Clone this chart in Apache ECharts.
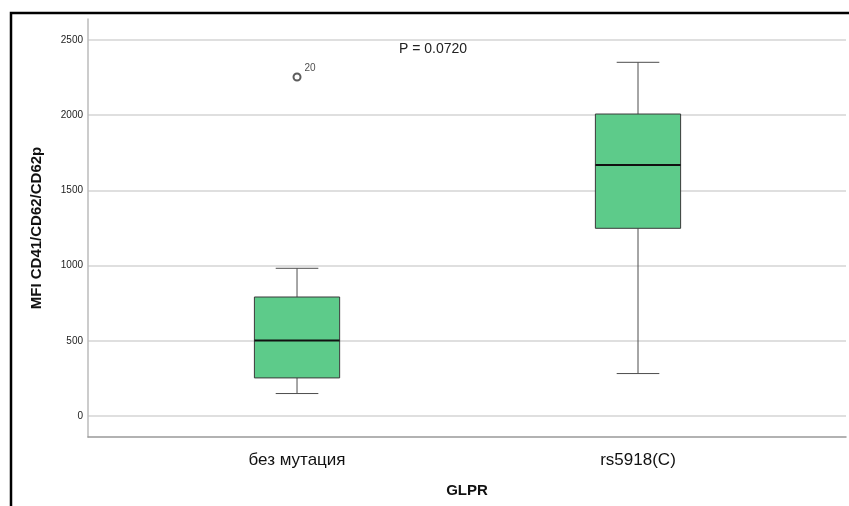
<!DOCTYPE html>
<html>
<head>
<meta charset="utf-8">
<script src="https://cdn.jsdelivr.net/npm/echarts@6/dist/echarts.min.js"></script>
<style>
  html, body { margin: 0; padding: 0; background: #fff; }
  #chart { width: 849px; height: 506px; }
</style>
</head>
<body>
<div id="chart"></div>
<script>
// groups and box statistics
var categories = ['без мутация', 'rs5918(C)'];
var minVals = [149, 282];
var q1Vals = [253, 1248];
var medVals = [501, 1669];
var q3Vals = [791, 2008];
var maxVals = [982, 2352];
// outlier: [group index, value, case label]
var outliers = [[0, 2254, '20']];
var yTicks = [0, 500, 1000, 1500, 2000, 2500];
var pText = 'P = 0.0720';

var chart = echarts.init(document.getElementById('chart'));

var boxData = categories.map(function (c, i) {
    return [i, minVals[i], q1Vals[i], medVals[i], q3Vals[i], maxVals[i]];
});

function renderBox(params, api) {
    var x = api.value(0);
    var pMin = api.coord([x, api.value(1)]);
    var pQ1 = api.coord([x, api.value(2)]);
    var pMed = api.coord([x, api.value(3)]);
    var pQ3 = api.coord([x, api.value(4)]);
    var pMax = api.coord([x, api.value(5)]);
    var unit = api.size([1, 0])[0];
    var half = unit * 0.125;      // box is a quarter of the group spacing
    var cap = half / 2;
    var cx = pMed[0];
    var wStyle = { stroke: '#4d4d4d', lineWidth: 1 };
    return {
        type: 'group',
        children: [
            { type: 'line', shape: { x1: cx, y1: pMax[1], x2: cx, y2: pQ3[1] }, style: wStyle },
            { type: 'line', shape: { x1: cx, y1: pQ1[1], x2: cx, y2: pMin[1] }, style: wStyle },
            { type: 'line', shape: { x1: cx - cap, y1: pMax[1], x2: cx + cap, y2: pMax[1] }, style: wStyle },
            { type: 'line', shape: { x1: cx - cap, y1: pMin[1], x2: cx + cap, y2: pMin[1] }, style: wStyle },
            {
                type: 'rect',
                shape: { x: cx - half, y: pQ3[1], width: half * 2, height: pQ1[1] - pQ3[1] },
                style: { fill: '#5dcb8a', stroke: '#3a3a3a', lineWidth: 1 }
            },
            {
                type: 'line',
                shape: { x1: cx - half, y1: pMed[1], x2: cx + half, y2: pMed[1] },
                style: { stroke: '#111', lineWidth: 2 }
            }
        ]
    };
}

var option = {
    animation: false,
    backgroundColor: '#fff',
    textStyle: { fontFamily: 'Liberation Sans, Arial, sans-serif' },
    grid: { left: 88, right: 3, top: 19, bottom: 69 },
    xAxis: {
        type: 'value',
        min: -0.613,
        max: 1.61,
        name: 'GLPR',
        nameLocation: 'middle',
        nameGap: 46,
        nameTextStyle: { fontSize: 15, fontWeight: 'bold', color: '#111' },
        axisLine: { show: true, onZero: false, lineStyle: { color: '#999', width: 1.5 } },
        axisTick: { show: false, customValues: [0, 1] },
        splitLine: { show: false },
        axisLabel: {
            customValues: [0, 1],
            fontSize: 17,
            color: '#111',
            margin: 15,
            formatter: function (v) { return categories[Math.round(v)]; }
        }
    },
    yAxis: {
        type: 'value',
        min: -140,
        max: 2640,
        name: 'MFI CD41/CD62/CD62p',
        nameLocation: 'middle',
        nameGap: 44,
        nameTextStyle: { fontSize: 15, fontWeight: 'bold', color: '#111' },
        axisLine: { show: true, onZero: false, lineStyle: { color: '#bbb', width: 1.5 } },
        axisTick: { show: false, customValues: yTicks },
        axisLabel: {
            customValues: yTicks,
            fontSize: 10,
            color: '#222',
            margin: 5,
            formatter: function (v) { return String(v); }
        },
        splitLine: { show: true, lineStyle: { color: '#d4d4d4', width: 1.5 } }
    },
    graphic: [
        {
            type: 'rect',
            silent: true,
            shape: { x: 11, y: 13, width: 860, height: 520 },
            style: { fill: null, stroke: '#000', lineWidth: 2.5 }
        },
        {
            type: 'text',
            left: 399,
            top: 42,
            style: { text: pText, fontSize: 14, fill: '#222', fontFamily: 'Liberation Sans, Arial, sans-serif' }
        }
    ],
    series: [
        {
            type: 'custom',
            renderItem: renderBox,
            encode: { x: 0, y: [1, 2, 3, 4, 5] },
            data: boxData,
            z: 3
        },
        {
            type: 'scatter',
            data: outliers.map(function (o) { return [o[0], o[1], o[2]]; }),
            symbol: 'emptyCircle',
            symbolSize: 7,
            itemStyle: { color: '#333', borderWidth: 1 },
            label: {
                show: true,
                position: 'right',
                offset: [-2, -9],
                fontSize: 10,
                color: '#222',
                formatter: function (p) { return p.data[2]; }
            },
            z: 4
        }
    ]
};

chart.setOption(option);
</script>
</body>
</html>
